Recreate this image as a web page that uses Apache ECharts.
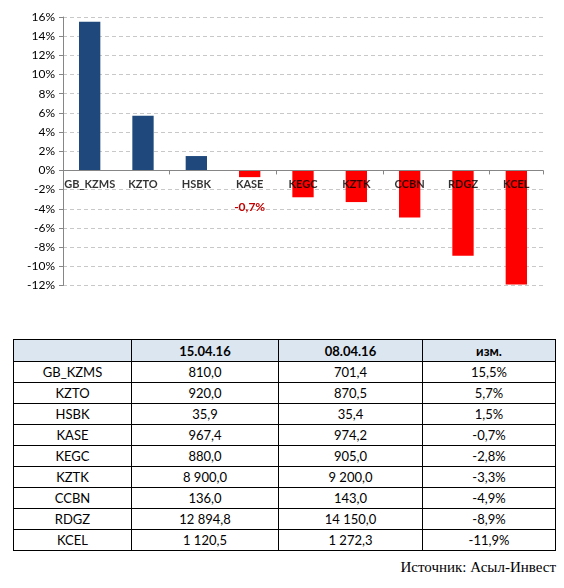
<!DOCTYPE html>
<html>
<head>
<meta charset="utf-8">
<script src="https://cdn.jsdelivr.net/npm/echarts@6/dist/echarts.min.js"></script>
<style>
  html, body { margin: 0; padding: 0; background: #fff; }
  body { width: 564px; height: 588px; position: relative; overflow: hidden; }
  #chart { position: absolute; left: 0; top: 0; width: 564px; height: 300px; }
  table { position: absolute; left: 13px; top: 339px; border-collapse: collapse; table-layout: fixed;
          font-family: Lato, "Open Sans", sans-serif; font-size: 13px; color: #000; }
  td, th { border: 1px solid #000; text-align: center; padding: 0; }
  th { background: #dce6f1; font-weight: bold; height: 21px; }
  td { height: 20px; }
  #source { position: absolute; right: 8px; top: 559px; font-family: "Liberation Serif", serif; font-size: 15px; color: #000; }
</style>
</head>
<body>
<div id="chart"></div>
<table id="tbl"></table>
<div id="source">Источник: Асыл-Инвест</div>
<script>
const categories = ['GB_KZMS', 'KZTO', 'HSBK', 'KASE', 'KEGC', 'KZTK', 'CCBN', 'RDGZ', 'KCEL'];
const changes = [15.5, 5.7, 1.5, -0.7, -2.8, -3.3, -4.9, -8.9, -11.9];
const priceNow = ['810,0', '920,0', '35,9', '967,4', '880,0', '8 900,0', '136,0', '12 894,8', '1 120,5'];
const pricePrev = ['701,4', '870,5', '35,4', '974,2', '905,0', '9 200,0', '143,0', '14 150,0', '1 272,3'];
const changeText = ['15,5%', '5,7%', '1,5%', '-0,7%', '-2,8%', '-3,3%', '-4,9%', '-8,9%', '-11,9%'];
const headers = ['', '15.04.16', '08.04.16', 'изм.'];
const labelledCategories = ['KASE'];
const yTicks = { min: -12, max: 16, interval: 2 };

const chart = echarts.init(document.getElementById('chart'), null, { renderer: 'canvas' });
chart.setOption({
  animation: false,
  grid: { left: 63, right: 21, top: 17, bottom: 14.5, containLabel: false },
  xAxis: {
    type: 'category',
    data: categories,
    axisLine: { show: true, onZero: true, lineStyle: { color: '#868686', width: 1 } },
    axisTick: { show: true, length: 4, lineStyle: { color: '#868686' } },
    axisLabel: { show: false },
    splitLine: { show: false },
    z: 10
  },
  yAxis: {
    type: 'value',
    min: yTicks.min, max: yTicks.max, interval: yTicks.interval,
    axisLine: { show: true, lineStyle: { color: '#868686' } },
    axisTick: { show: true, length: 4, lineStyle: { color: '#868686' } },
    axisLabel: { formatter: v => v + '%', color: '#000', fontFamily: 'Lato, sans-serif', fontSize: 12, margin: 8 },
    splitLine: { lineStyle: { color: '#c8c8c8', type: [4, 3] } }
  },
  series: [{
    type: 'bar',
    barWidth: '40%',
    data: changes.map((v, i) => ({
      value: v,
      itemStyle: { color: v >= 0 ? '#1f497d' : '#ff0000' },
      label: labelledCategories.includes(categories[i]) ? {
        show: true, position: 'bottom', distance: 24,
        formatter: String(v).replace('.', ',') + '%',
        color: '#c00000', fontWeight: 'bold', fontSize: 12, fontFamily: 'Lato, sans-serif'
      } : { show: false }
    })),
    z: 2
  }, {
    type: 'scatter',
    symbolSize: 0,
    silent: true,
    data: categories.map(c => [c, 0]),
    label: {
      show: true, position: 'bottom', distance: 9,
      formatter: p => p.value[0],
      color: '#000', fontFamily: 'Lato, sans-serif', fontWeight: 'bold', fontSize: 11
    },
    z: 20
  }]
});

const tbl = document.getElementById('tbl');
const colWidths = [118, 147, 144, 133];
let html = '<colgroup>' + colWidths.map(w => `<col style="width:${w}px">`).join('') + '</colgroup>';
html += '<tr>' + headers.map(h => `<th>${h}</th>`).join('') + '</tr>';
categories.forEach((c, i) => {
  html += `<tr><td>${c}</td><td>${priceNow[i]}</td><td>${pricePrev[i]}</td><td>${changeText[i]}</td></tr>`;
});
tbl.innerHTML = html;
</script>
</body>
</html>
